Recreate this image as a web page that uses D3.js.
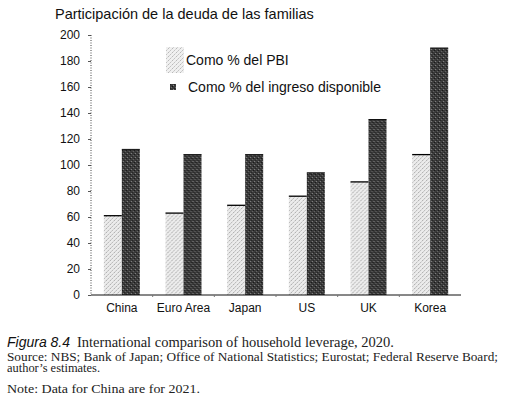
<!DOCTYPE html>
<html>
<head>
<meta charset="utf-8">
<script src="https://cdn.jsdelivr.net/npm/d3@7"></script>
<style>
  html, body { margin: 0; padding: 0; background: #fff; }
  svg { display: block; }
  .sans { font-family: "Liberation Sans", Arial, sans-serif; fill: #111; }
  .serif { font-family: "Liberation Serif", "Times New Roman", serif; fill: #222; }
</style>
</head>
<body>
<div id="chart"></div>
<script>
// household debt, % of GDP vs % of disposable income
const categories = ['China', 'Euro Area', 'Japan', 'US', 'UK', 'Korea'];
const pctGDP = [61, 63, 69, 76, 87, 108];
const pctIncome = [112, 108, 108, 94, 135, 190];
const seriesNames = ['Como % del PBI', 'Como % del ingreso disponible'];
const yTicks = [0, 20, 40, 60, 80, 100, 120, 140, 160, 180, 200];

const W = 511, H = 412;
const M = { top: 35, right: 50, bottom: 117, left: 91 };

const svg = d3.select('#chart').append('svg').attr('width', W).attr('height', H);
const defs = svg.append('defs');

// stippled fills like the scanned print
const pLight = defs.append('pattern').attr('id', 'light')
  .attr('width', 4).attr('height', 4).attr('patternUnits', 'userSpaceOnUse');
pLight.append('rect').attr('width', 4).attr('height', 4).attr('fill', '#ececec');
[[0, 0, '#a8a8a8'], [2, 2, '#b4b4b4'], [3, 1, '#d0d0d0'], [1, 3, '#c4c4c4']].forEach(([x, y, c]) =>
  pLight.append('rect').attr('x', x).attr('y', y).attr('width', 1).attr('height', 1).attr('fill', c));

const pDark = defs.append('pattern').attr('id', 'dark')
  .attr('width', 4).attr('height', 4).attr('patternUnits', 'userSpaceOnUse');
pDark.append('rect').attr('width', 4).attr('height', 4).attr('fill', '#3a3a3a');
[[1, 1, '#8a8a8a'], [3, 3, '#6a6a6a'], [0, 2, '#141414'], [2, 0, '#222']].forEach(([x, y, c]) =>
  pDark.append('rect').attr('x', x).attr('y', y).attr('width', 1).attr('height', 1).attr('fill', c));

const x0 = d3.scaleBand().domain(categories).range([M.left, W - M.right]).padding(0);
const x1 = d3.scaleBand().domain([0, 1]).range([-18, 18]);
const y = d3.scaleLinear().domain([0, 200]).range([H - M.bottom, M.top]);

// title
svg.append('text').attr('class', 'sans')
  .attr('x', 55).attr('y', 19).style('font-size', '14.5px')
  .text('Participación de la deuda de las familias');

// y axis (dotted spine)
const yAx = svg.append('g').attr('transform', `translate(${M.left},0)`)
  .call(d3.axisLeft(y).tickValues(yTicks).tickSize(3).tickPadding(8));
yAx.select('.domain').remove();
yAx.selectAll('line').attr('stroke', '#555');
yAx.selectAll('text').attr('fill', '#111')
  .style('font-size', '12px').style('font-family', '"Liberation Sans", Arial, sans-serif');
svg.append('line')
  .attr('x1', M.left).attr('x2', M.left).attr('y1', y(200)).attr('y2', y(0))
  .attr('stroke', '#444').attr('stroke-dasharray', '1 1.5');

// bars
const groups = svg.append('g').selectAll('g').data(categories).join('g')
  .attr('transform', d => `translate(${x0(d) + x0.bandwidth() / 2},0)`);

groups.append('rect')
  .attr('x', x1(0)).attr('width', x1.bandwidth())
  .attr('y', (d, i) => y(pctGDP[i])).attr('height', (d, i) => y(0) - y(pctGDP[i]))
  .attr('fill', 'url(#light)');
groups.append('line')
  .attr('x1', x1(0)).attr('x2', x1(0) + x1.bandwidth())
  .attr('y1', (d, i) => y(pctGDP[i])).attr('y2', (d, i) => y(pctGDP[i]))
  .attr('stroke', '#000').attr('stroke-width', 1.3);

groups.append('rect')
  .attr('x', x1(1)).attr('width', x1.bandwidth())
  .attr('y', (d, i) => y(pctIncome[i])).attr('height', (d, i) => y(0) - y(pctIncome[i]))
  .attr('fill', 'url(#dark)');
groups.append('line')
  .attr('x1', x1(1)).attr('x2', x1(1) + x1.bandwidth())
  .attr('y1', (d, i) => y(pctIncome[i])).attr('y2', (d, i) => y(pctIncome[i]))
  .attr('stroke', '#111').attr('stroke-width', 1);

// x axis
const xAx = svg.append('g').attr('transform', `translate(0,${y(0)})`)
  .call(d3.axisBottom(x0).tickSize(0).tickPadding(8));
xAx.select('.domain').attr('stroke', '#111').attr('d', `M${M.left},0H${W - M.right}`);
xAx.selectAll('text').attr('fill', '#111')
  .style('font-size', '12px').style('font-family', '"Liberation Sans", Arial, sans-serif');
svg.append('g').selectAll('line').data(categories.slice(1)).join('line')
  .attr('x1', d => x0(d)).attr('x2', d => x0(d))
  .attr('y1', y(0)).attr('y2', y(0) + 2).attr('stroke', '#777');

// legend
const lg = svg.append('g');
lg.append('rect').attr('x', 166).attr('y', 47).attr('width', 18).attr('height', 26)
  .attr('fill', 'url(#light)').attr('opacity', 0.8);
lg.append('text').attr('class', 'sans').attr('x', 186).attr('y', 65)
  .style('font-size', '14px').text(seriesNames[0]);
lg.append('rect').attr('x', 170).attr('y', 84).attr('width', 6).attr('height', 6)
  .attr('fill', 'url(#dark)');
lg.append('text').attr('class', 'sans').attr('x', 188).attr('y', 92)
  .style('font-size', '14px').text(seriesNames[1]);

// caption
svg.append('text').attr('class', 'sans').attr('x', 7).attr('y', 347)
  .style('font-size', '14px').style('font-style', 'italic').attr('fill', '#222').text('Figura 8.4');
svg.append('text').attr('class', 'serif').attr('x', 77).attr('y', 347)
  .style('font-size', '14.5px').attr('textLength', 317).attr('lengthAdjust', 'spacingAndGlyphs')
  .text('International comparison of household leverage, 2020.');
svg.append('text').attr('class', 'serif').attr('x', 7).attr('y', 361)
  .style('font-size', '11.5px').attr('textLength', 491).attr('lengthAdjust', 'spacingAndGlyphs')
  .text('Source: NBS; Bank of Japan; Office of National Statistics; Eurostat; Federal Reserve Board;');
svg.append('text').attr('class', 'serif').attr('x', 7).attr('y', 372)
  .style('font-size', '11.5px').attr('textLength', 93).attr('lengthAdjust', 'spacingAndGlyphs')
  .text('author’s estimates.');
svg.append('text').attr('class', 'serif').attr('x', 7).attr('y', 393)
  .style('font-size', '11.5px').attr('textLength', 193).attr('lengthAdjust', 'spacingAndGlyphs')
  .text('Note: Data for China are for 2021.');
</script>
</body>
</html>
